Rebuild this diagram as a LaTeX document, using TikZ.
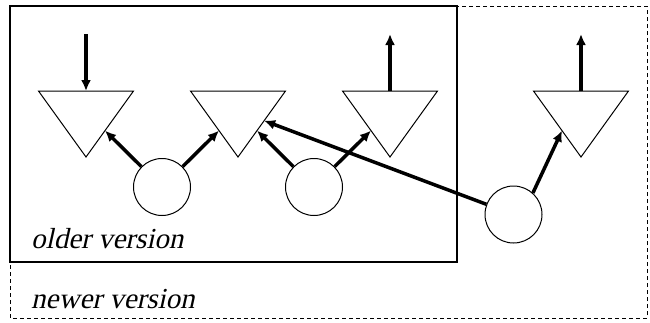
\documentclass[tikz,border=0pt]{standalone}
\usepackage{fontspec}
\newfontfamily\labelfont[FakeSlant=0.22]{Liberation Serif}
\usetikzlibrary{arrows.meta,calc}
\begin{document}
\begin{tikzpicture}[x=1pt,y=-1pt,
  gate/.style={draw=black,line width=1pt,fill=white},
  cell/.style={circle,draw=black,line width=1pt,fill=white,minimum size=57pt,inner sep=0pt},
  link/.style={line width=3.5pt,-{Latex[length=11pt,width=10pt]}},
  label/.style={anchor=base west,inner sep=0pt,font=\labelfont\fontsize{29pt}{32pt}\selectfont}]
\useasboundingbox (0,0) rectangle (650,322);

% frames for the two versions
\draw[line width=1pt,dash pattern=on 4pt off 3pt] (10,6) rectangle (647,318);
\draw[line width=1.3pt] (10,6) rectangle (457,262);

% downward-pointing triangles with anchor points on their slanted sides
\foreach \n/\x in {1/86,2/238,3/390,4/581}{
  \draw[gate] (\x-47.5,91) -- (\x+47.5,91) -- (\x,157) -- cycle;
  \coordinate (t\n top) at (\x,91);
  \coordinate (t\n l) at ($(\x-47.5,91)!0.6!(\x,157)$);
  \coordinate (t\n r) at ($(\x+47.5,91)!0.6!(\x,157)$);
  \coordinate (t\n rh) at ($(\x+47.5,91)!0.45!(\x,157)$);
}

% circles
\node[cell] (c1) at (162,187) {};
\node[cell] (c2) at (314,187) {};
\node[cell] (c3) at (513.5,214.5) {};

% free ends of the vertical arrows
\coordinate (in1) at (86,34);
\coordinate (out3) at (390,34);
\coordinate (out4) at (581,34);

% connectors
\draw[link] (in1) -- (t1top);
\draw[link] (t3top) -- (out3);
\draw[link] (t4top) -- (out4);
\draw[link] (c1) -- (t1r);
\draw[link] (c1) -- (t2l);
\draw[link] (c2) -- (t2r);
\draw[link] (c2) -- (t3l);
\draw[link] (c3) -- (t2rh);
\draw[link] (c3.48) -- (t4l);

% labels
\node[label] (old) at (31,248) {older version};
\node[label] (new) at (31,308) {newer version};
\end{tikzpicture}
\end{document}
